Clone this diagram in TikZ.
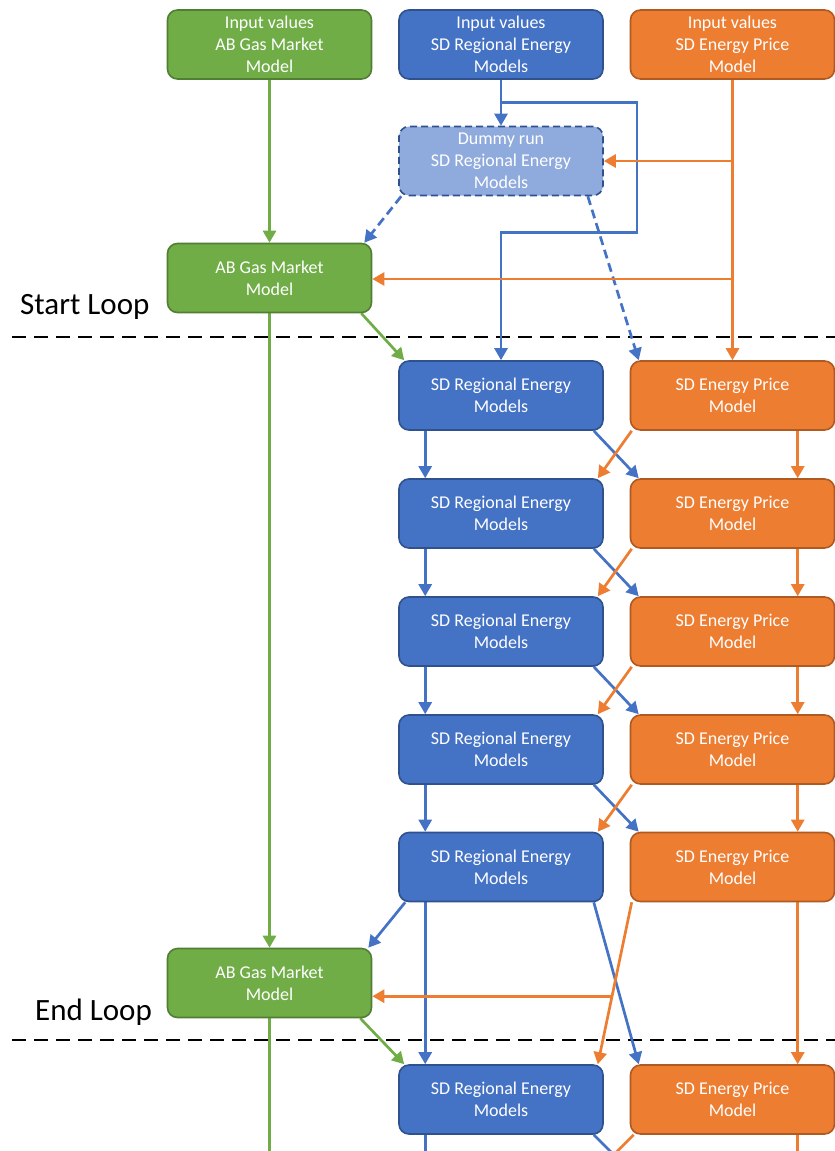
\documentclass[tikz,border=0pt]{standalone}
\usepackage{fontspec}
\setmainfont{Carlito}
\usetikzlibrary{arrows.meta,calc}
\pgfdeclarelayer{bg}
\pgfsetlayers{bg,main}
\definecolor{grn}{HTML}{70AD47}
\definecolor{grnD}{HTML}{507E32}
\definecolor{blu}{HTML}{4472C4}
\definecolor{bluD}{HTML}{2F528F}
\definecolor{bluL}{HTML}{8FAADC}
\definecolor{org}{HTML}{ED7D31}
\definecolor{orgD}{HTML}{AE5A21}
\tikzset{
  box/.style={rounded corners=10pt, minimum width=204pt, minimum height=69pt,
    inner sep=0pt, align=center, text=white,
    font=\fontsize{18}{22}\selectfont, line width=1.6pt},
  gbox/.style={box, fill=grn, draw=grnD},
  bbox/.style={box, fill=blu, draw=bluD},
  obox/.style={box, fill=org, draw=orgD},
  dbox/.style={box, fill=bluL, draw=bluD, dash pattern=on 7pt off 4pt},
  wire/.style={line width=2.7pt},
  conn/.style={wire, -{Triangle[length=12pt,width=13pt]}},
  gconn/.style={conn, draw=grn},
  bconn/.style={conn, draw=blu},
  oconn/.style={conn, draw=org},
  bdash/.style={bconn, dash pattern=on 9pt off 5pt},
  sep/.style={line width=2.8pt, black, dash pattern=on 14pt off 8pt},
  looplabel/.style={anchor=base west, inner sep=0pt, font=\fontsize{31}{36}\selectfont}
}
\begin{document}
\begin{tikzpicture}[x=1pt,y=-1pt]
\useasboundingbox (0,0) rectangle (835,1151);
\clip (0,0) rectangle (835,1151);

% input boxes
\node[gbox] (inA) at (269.5,44.5) {Input values\\AB Gas Market\\Model};
\node[bbox] (inS) at (501,44.5) {Input values\\SD Regional Energy\\Models};
\node[obox] (inP) at (732.5,44.5) {Input values\\SD Energy Price\\Model};

% dummy run and gas market models
\node[dbox] (dummy) at (501,161) {Dummy run\\SD Regional Energy\\Models};
\node[gbox] (ab1) at (269.5,278) {AB Gas Market\\Model};
\node[gbox] (ab2) at (269.5,983) {AB Gas Market\\Model};

% loop rows
\foreach \i/\y in {1/395.5,2/513.5,3/631.5,4/749.5,5/867,6/1099.5} {
  \node[bbox] (sd\i) at (501,\y) {SD Regional Energy\\Models};
  \node[obox] (p\i) at (732.5,\y) {SD Energy Price\\Model};
}

% loop markers
\node[looplabel] (startlbl) at (20,314) {Start Loop};
\node[looplabel] (endlbl) at (35,1020) {End Loop};
\coordinate (s1l) at (12,337);
\coordinate (s1r) at (835,337);
\coordinate (s2l) at (12,1040);
\coordinate (s2r) at (835,1040);

% free end at the bottom edge
\coordinate (gbot) at ($(ab2.south)+(0,200)$);

\begin{pgfonlayer}{bg}
  \draw[sep] (s1l) -- (s1r);
  \draw[sep] (s2l) -- (s2r);

  % green: gas market model
  \draw[gconn] (inA.south) -- (ab1.north);
  \draw[gconn] (ab1.south) -- (ab2.north);
  \draw[wire, grn] (ab2.south) -- (gbot);
  \draw[gconn] ($(ab1.south east)+(-11,0)$) -- ($(sd1.north west)+(6,0)$);
  \draw[gconn] ($(ab2.south east)+(-12,0)$) -- ($(sd6.north west)+(6,0)$);

  % blue: regional energy inputs
  \coordinate (bj) at ($(inS.south)+(0,23)$);
  \draw[bconn] (inS.south) -- (dummy.north);
  \draw[bconn] (bj) -- ++(136,0) |- ($(sd1.north)+(0,-128)$) -- (sd1.north);
  \draw[bdash] ($(dummy.south west)+(3,0)$) -- ($(ab1.north east)+(-8,0)$);
  \draw[bdash] ($(dummy.south east)+(-16,0)$) -- ($(p1.north west)+(9,0)$);

  % orange: energy price inputs
  \draw[oconn] (inP.south) -- (p1.north);
  \draw[oconn] (inP.south |- dummy.east) -- (dummy.east);
  \draw[oconn] ($(inP.south |- ab1.east)+(0,1)$) -- ($(ab1.east)+(0,1)$);

  % iteration links between rows
  \foreach \i/\j in {1/2,2/3,3/4,4/5,5/6} {
    \draw[bconn] ($(sd\i.south west)+(27,0)$) -- ($(sd\j.north west)+(27,0)$);
    \draw[bconn] ($(sd\i.south east)+(-10,0)$) -- ($(p\j.north west)+(9,0)$);
    \coordinate (os\i) at ($(p\i.south west)+(2,0)$);
    \coordinate (oe\i) at ($(sd\j.north east)+(-6,0)$);
    \draw[oconn] (os\i) -- (oe\i);
    \draw[oconn] ($(p\i.south west)+(168,0)$) -- ($(p\j.north west)+(168,0)$);
  }

  % results back to the gas market model
  \draw[bconn] ($(sd5.south west)+(7,0)$) -- ($(ab2.north east)+(-4,0)$);
  \coordinate (ob) at ($(os5)!0.58!(oe5)$);
  \draw[oconn] (ob) -- (ob -| ab2.east);

  % links continuing past the last row
  \draw[wire, blu] ($(sd6.south west)+(27,0)$) -- ++(0,40);
  \draw[wire, blu] ($(sd6.south east)+(-10,0)$) -- ++(30,30);
  \draw[wire, org] ($(p6.south west)+(4,0)$) -- ++(-30,30);
  \draw[wire, org] ($(p6.south west)+(168,0)$) -- ++(0,40);
\end{pgfonlayer}
\end{tikzpicture}
\end{document}
